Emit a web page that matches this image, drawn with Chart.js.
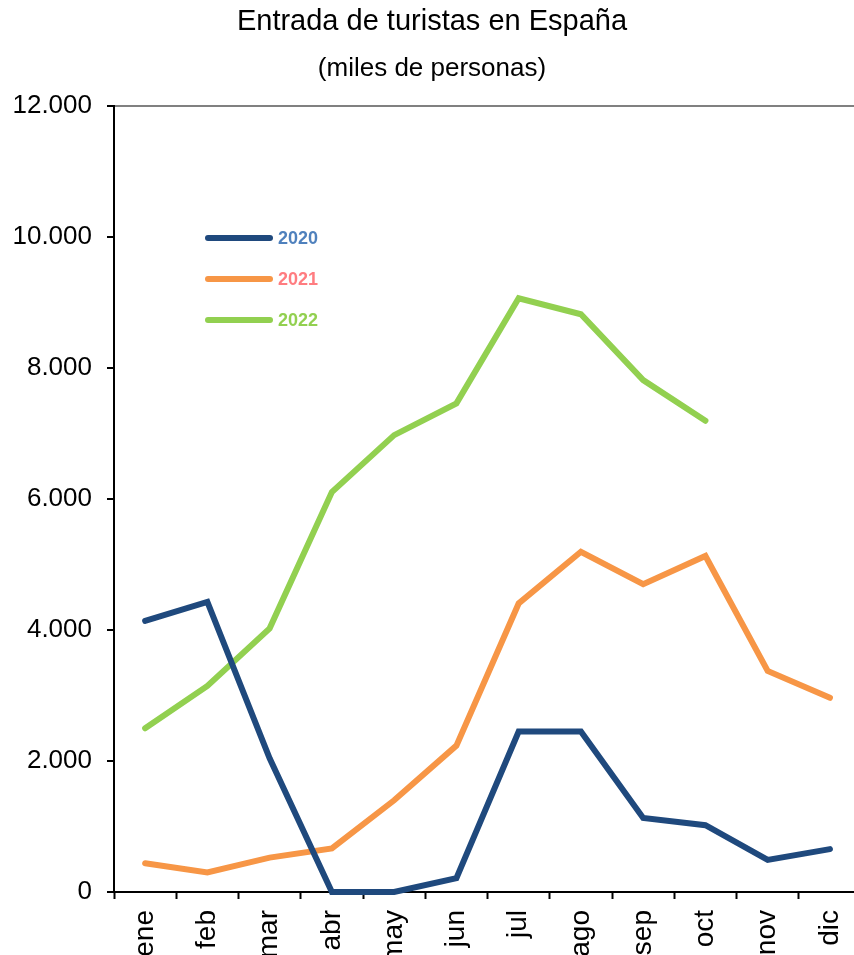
<!DOCTYPE html>
<html>
<head>
<meta charset="utf-8">
<script src="https://cdn.jsdelivr.net/npm/chart.js@4/dist/chart.umd.min.js"></script>
<style>
  html, body { margin: 0; padding: 0; background: #fff; overflow: hidden; }
  #wrap { width: 875px; height: 955px; }
</style>
</head>
<body>
<div id="wrap"><canvas id="c" width="875" height="955"></canvas></div>
<script>
const categories = ['ene','feb','mar','abr','may','jun','jul','ago','sep','oct','nov','dic'];
const seriesNames = ['2020','2021','2022'];
const values2020 = [4140, 4430, 2040, 0, 0, 210, 2450, 2450, 1130, 1020, 490, 655];
const values2021 = [440, 300, 525, 665, 1400, 2235, 4405, 5195, 4700, 5130, 3375, 2965];
const values2022 = [2500, 3145, 4025, 6105, 6975, 7460, 9065, 8820, 7815, 7195];
const yTicks = [0, 2000, 4000, 6000, 8000, 10000, 12000];
const titleText = 'Entrada de turistas en España';
const subtitleText = '(miles de personas)';

const lineColors = ['#1F497D', '#F79646', '#92D050'];
const legendTextColors = ['#4F81BD', '#FF7C80', '#92D050'];
const FONT = "'Liberation Sans', Arial, sans-serif";

function fmt(v) {
  const s = String(Math.round(v));
  return s.replace(/\B(?=(\d{3})+(?!\d))/g, '.');
}

const legendPlugin = {
  id: 'insideLegend',
  afterDatasetsDraw(chart) {
    const ctx = chart.ctx;
    const ys = [238, 279, 320];
    ctx.save();
    chart.data.datasets.forEach((ds, i) => {
      ctx.strokeStyle = ds.borderColor;
      ctx.lineWidth = 6;
      ctx.lineCap = 'round';
      ctx.beginPath();
      ctx.moveTo(208, ys[i]);
      ctx.lineTo(270, ys[i]);
      ctx.stroke();
      ctx.fillStyle = legendTextColors[i];
      ctx.font = 'bold 18px ' + FONT;
      ctx.textAlign = 'left';
      ctx.textBaseline = 'middle';
      ctx.fillText(ds.label, 278, ys[i] + 1);
    });
    ctx.restore();
  }
};

new Chart(document.getElementById('c'), {
  type: 'line',
  data: {
    labels: categories,
    datasets: [
      { label: seriesNames[0], data: values2020, borderColor: lineColors[0], backgroundColor: lineColors[0] },
      { label: seriesNames[1], data: values2021, borderColor: lineColors[1], backgroundColor: lineColors[1] },
      { label: seriesNames[2], data: values2022, borderColor: lineColors[2], backgroundColor: lineColors[2] }
    ].map(d => Object.assign(d, {
      borderWidth: 6,
      pointRadius: 0,
      pointHoverRadius: 0,
      tension: 0,
      fill: false,
      clip: false,
      borderCapStyle: 'round',
      borderJoinStyle: 'miter'
    }))
  },
  options: {
    responsive: false,
    animation: false,
    devicePixelRatio: 1,
    layout: { padding: { top: 0, left: 0, right: 11, bottom: 0 } },
    plugins: {
      legend: { display: false },
      tooltip: { enabled: false },
      title: {
        display: true,
        text: titleText,
        color: '#000',
        font: { family: FONT, size: 29, weight: 'normal' },
        padding: { top: 5, bottom: 0 }
      },
      subtitle: {
        display: true,
        text: subtitleText,
        color: '#000',
        font: { family: FONT, size: 26, weight: 'normal' },
        padding: { top: 13, bottom: 22 }
      }
    },
    scales: {
      x: {
        offset: true,
        grid: {
          offset: true,
          drawOnChartArea: false,
          drawTicks: true,
          tickLength: 7,
          tickColor: '#000',
          tickWidth: 2
        },
        border: { display: true, color: '#000', width: 2 },
        ticks: {
          autoSkip: false,
          minRotation: 90,
          maxRotation: 90,
          color: '#000',
          font: { family: FONT, size: 28 },
          padding: 11
        },
        afterFit(scale) { scale.height = 63; }
      },
      y: {
        min: 0,
        max: 12000,
        afterBuildTicks(scale) { scale.ticks = yTicks.map(v => ({ value: v })); },
        grid: {
          drawOnChartArea: true,
          color: (c) => (c.tick && c.tick.value === 12000) ? '#808080' : 'rgba(0,0,0,0)',
          lineWidth: 2,
          tickLength: 7,
          tickColor: '#000',
          tickWidth: 2
        },
        border: { display: true, color: '#000', width: 2 },
        ticks: {
          color: '#000',
          font: { family: FONT, size: 26 },
          padding: 15,
          callback: (v) => fmt(v)
        },
        afterFit(scale) { scale.width = 114; }
      }
    }
  },
  plugins: [legendPlugin]
});
</script>
</body>
</html>
